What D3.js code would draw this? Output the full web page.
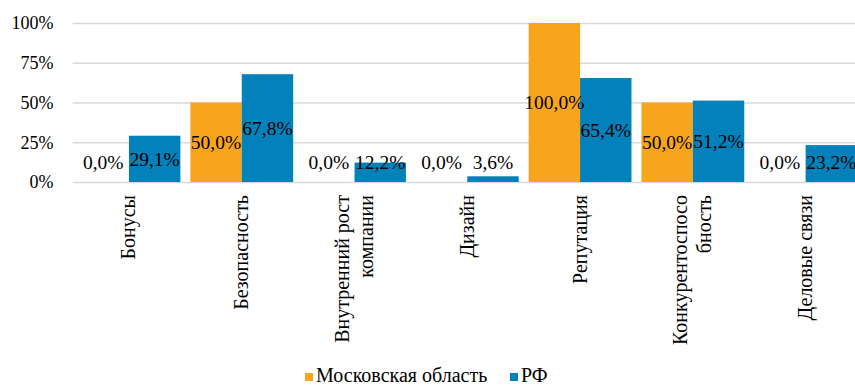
<!DOCTYPE html>
<html>
<head>
<meta charset="utf-8">
<script src="https://cdn.jsdelivr.net/npm/d3@7/dist/d3.min.js"></script>
</head>
<body style="margin:0;background:#fff">
<svg id="chart" width="855" height="385" style="display:block" font-family="Liberation Serif"></svg>
<script>
// Categories (line breaks as shown under the axis)
const categories = [
  ["Бонусы"],
  ["Безопасность"],
  ["Внутренний рост", "компании"],
  ["Дизайн"],
  ["Репутация"],
  ["Конкурентоспосо", "бность"],
  ["Деловые связи"]
];
const seriesNames = ["Московская область", "РФ"];
const moscowRegion = [0.0, 50.0, 0.0, 0.0, 100.0, 50.0, 0.0];
const russia = [29.1, 67.8, 12.2, 3.6, 65.4, 51.2, 23.2];
const yTicks = [0, 25, 50, 75, 100];
const colors = ["#F7A51C", "#0381BB"];

const FONT = "'Liberation Serif', 'Times New Roman', serif";
const svg = d3.select("#chart");
const plotLeft = 72.6, plotRight = 862, plotTop = 23, plotBottom = 182;

const x = d3.scaleBand()
  .domain(d3.range(categories.length))
  .range([plotLeft, plotRight])
  .paddingInner(0).paddingOuter(0);

const xSub = d3.scaleBand()
  .domain([0, 1])
  .range([0, x.bandwidth()])
  .paddingInner(0).paddingOuter(0.097);

const y = d3.scaleLinear().domain([0, 100]).range([plotBottom, plotTop]);

// Gridlines
svg.append("g")
  .attr("transform", `translate(${plotLeft},0)`)
  .call(d3.axisLeft(y).tickValues(yTicks).tickSize(-(855 - plotLeft)).tickFormat(""))
  .call(g => g.select(".domain").remove())
  .call(g => g.selectAll("line").attr("stroke", "#d9d9d9").attr("stroke-width", 1.3));

// Y tick labels
svg.append("g")
  .attr("transform", `translate(${plotLeft},0)`)
  .call(d3.axisLeft(y).tickValues(yTicks).tickSize(0).tickPadding(19).tickFormat(d => d + "%"))
  .call(g => g.select(".domain").remove())
  .call(g => g.attr("font-family", null).attr("font-size", null))
  .call(g => g.selectAll("text").style("font-size", "18px"));

const fmt = v => v.toFixed(1).replace(".", ",") + "%";
const series = [moscowRegion, russia];

series.forEach((vals, s) => {
  svg.append("g").selectAll("rect")
    .data(vals)
    .join("rect")
    .attr("x", (d, i) => x(i) + xSub(s))
    .attr("width", xSub.bandwidth())
    .attr("y", d => y(d))
    .attr("height", d => y(0) - y(d))
    .attr("fill", colors[s]);
});

// Data labels, centred in the bar but kept inside the plot area
series.forEach((vals, s) => {
  svg.append("g").selectAll("text")
    .data(vals)
    .join("text")
    .attr("x", (d, i) => x(i) + xSub(s) + xSub.bandwidth() / 2)
    .attr("y", d => Math.min((y(d) + y(0)) / 2, y(0) - 20))
    .attr("dy", "0.35em")
    .attr("text-anchor", "middle")
    .style("font-size", "19.5px")
    .text(d => fmt(d));
});

// Category labels, rotated
const catG = svg.append("g");
categories.forEach((lines, i) => {
  const cx = x(i) + x.bandwidth() / 2;
  const n = lines.length;
  lines.forEach((line, k) => {
    const offset = (k - (n - 1) / 2) * 24;
    catG.append("text")
      .attr("transform", `translate(${cx + offset + 6.5},195) rotate(-90)`)
      .attr("text-anchor", "end")
      .style("font-size", "20px")
      .text(line);
  });
});

// Legend
const legend = svg.append("g");
const legendItems = [{ x: 305, name: seriesNames[0] }, { x: 510, name: seriesNames[1] }];
legendItems.forEach((it, s) => {
  legend.append("rect").attr("x", it.x).attr("y", 373).attr("width", 8).attr("height", 8).attr("fill", colors[s]);
  legend.append("text").attr("x", it.x + 11).attr("y", 382).style("font-size", "20px").text(it.name);
});

// Common text style
svg.selectAll("text")
  .style("font-family", FONT)
  .style("fill", "#000");
</script>
</body>
</html>
